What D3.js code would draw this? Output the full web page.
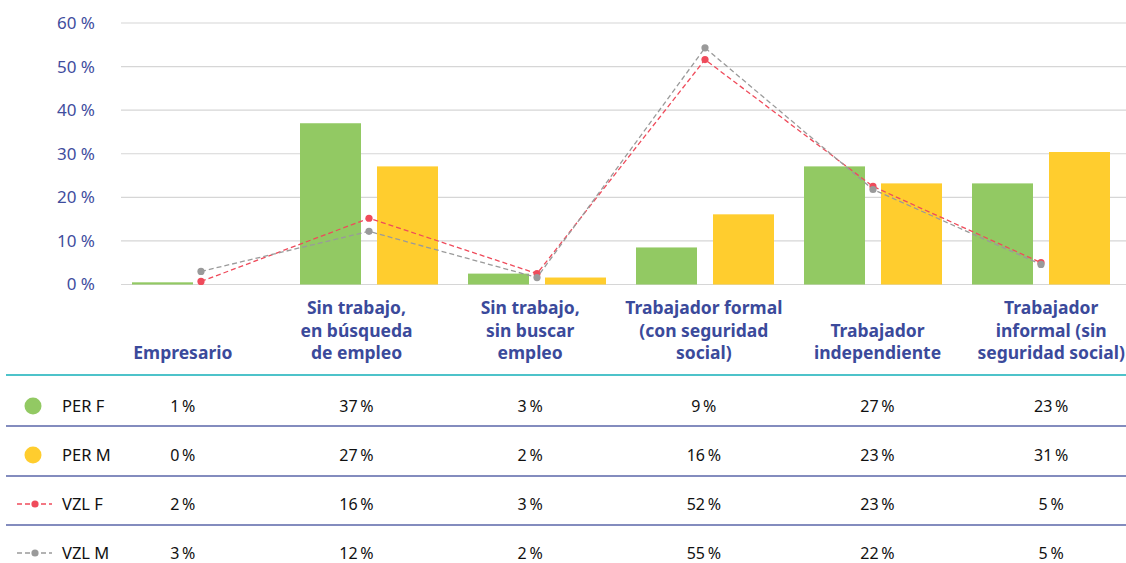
<!DOCTYPE html>
<html>
<head>
<meta charset="utf-8">
<script src="https://cdn.jsdelivr.net/npm/d3@7"></script>
<style>
  body { margin: 0; background: #fff; }
  svg { display: block; font-family: "Noto Sans", "Open Sans", sans-serif; }
</style>
</head>
<body>
<svg id="chart" width="1126" height="563"></svg>
<script>
// data
var categories = ["Empresario", "Sin trabajo, en búsqueda de empleo", "Sin trabajo, sin buscar empleo",
                  "Trabajador formal (con seguridad social)", "Trabajador independiente",
                  "Trabajador informal (sin seguridad social)"];
var categoryLines = [
    ["Empresario"],
    ["Sin trabajo,", "en búsqueda", "de empleo"],
    ["Sin trabajo,", "sin buscar", "empleo"],
    ["Trabajador formal", "(con seguridad", "social)"],
    ["Trabajador", "independiente"],
    ["Trabajador", "informal (sin", "seguridad social)"]
];
var perF = [0.5, 37, 2.5, 8.5, 27.1, 23.2];
var perM = [0, 27.1, 1.6, 16.1, 23.2, 30.4];
var vzlF = [0.7, 15.2, 2.5, 51.6, 22.5, 5.0];
var vzlM = [3.0, 12.2, 1.6, 54.3, 21.8, 4.6];
var yTicks = [0, 10, 20, 30, 40, 50, 60];

var seriesNames = ["PER F", "PER M", "VZL F", "VZL M"];
var tableLabels = [
    ["1 %", "37 %", "3 %", "9 %", "27 %", "23 %"],
    ["0 %", "27 %", "2 %", "16 %", "23 %", "31 %"],
    ["2 %", "16 %", "3 %", "52 %", "23 %", "5 %"],
    ["3 %", "12 %", "2 %", "55 %", "22 %", "5 %"]
];

var green = "#92c963", yellow = "#ffcd2e", red = "#ef4b5b", grey = "#9a9a9a";
var blue = "#3b4a9b";

var svg = d3.select("#chart");

var x = d3.scaleBand().domain(categories).range([117, 1125]);
var y = d3.scaleLinear().domain([0, 60]).range([284.5, 23]);
var barW = 61, gap = 16;
function cx(c) { return x(c) + x.bandwidth() / 2; }

// table columns (labels under the chart sit on these too)
var tx = d3.scaleBand().domain(categories).range([96, 1138]);
function tcx(c) { return tx(c) + tx.bandwidth() / 2; }

// gridlines
svg.append("g").selectAll("line").data(yTicks).enter().append("line")
    .attr("x1", 121).attr("x2", 1126)
    .attr("y1", function (d) { return y(d); })
    .attr("y2", function (d) { return y(d); })
    .attr("stroke", "#d6d6d6").attr("stroke-width", 1.2);

// y labels
svg.append("g").selectAll("text").data(yTicks).enter().append("text")
    .attr("x", 95).attr("y", function (d) { return y(d); })
    .attr("dy", "0.35em")
    .attr("text-anchor", "end")
    .attr("fill", "#3f4d9e").attr("font-size", 17)
    .text(function (d) { return d + " %"; });

// bars
svg.append("g").selectAll("rect").data(perF).enter().append("rect")
    .attr("x", function (d, i) { return cx(categories[i]) - gap / 2 - barW; })
    .attr("width", barW)
    .attr("y", function (d) { return y(d); })
    .attr("height", function (d) { return y(0) - y(d); })
    .attr("fill", green);
svg.append("g").selectAll("rect").data(perM).enter().append("rect")
    .attr("x", function (d, i) { return cx(categories[i]) + gap / 2; })
    .attr("width", barW)
    .attr("y", function (d) { return y(d); })
    .attr("height", function (d) { return y(0) - y(d); })
    .attr("fill", yellow);

// dashed lines
var line = d3.line()
    .x(function (d, i) { return cx(categories[i]); })
    .y(function (d) { return y(d); });

[[vzlF, red], [vzlM, grey]].forEach(function (s) {
    var g = svg.append("g");
    g.append("path").attr("d", line(s[0]))
        .attr("fill", "none").attr("stroke", s[1])
        .attr("stroke-width", 1.3).attr("stroke-dasharray", "5,3");
    g.selectAll("circle").data(s[0]).enter().append("circle")
        .attr("cx", function (d, i) { return cx(categories[i]); })
        .attr("cy", function (d) { return y(d); })
        .attr("r", 3.6).attr("fill", s[1]);
});

// category labels, bottom aligned
var lh = 22.5, lastBase = 359;
categoryLines.forEach(function (lines, i) {
    var t = svg.append("text")
        .attr("text-anchor", "middle")
        .attr("fill", blue).attr("font-size", 17.5).attr("font-weight", "bold");
    lines.forEach(function (l, j) {
        t.append("tspan")
            .attr("x", tcx(categories[i]))
            .attr("y", lastBase - (lines.length - 1 - j) * lh)
            .text(l);
    });
});

// table
var rowY = [406, 455, 504, 553];
svg.append("line").attr("x1", 6).attr("x2", 1126).attr("y1", 375).attr("y2", 375)
    .attr("stroke", "#4ec3ca").attr("stroke-width", 2);
[426, 476, 525].forEach(function (yy) {
    svg.append("line").attr("x1", 6).attr("x2", 1126).attr("y1", yy).attr("y2", yy)
        .attr("stroke", "#5a66a8").attr("stroke-width", 1.4);
});

var symbolColors = [green, yellow, red, grey];
seriesNames.forEach(function (name, r) {
    var yy = rowY[r];
    if (r < 2) {
        svg.append("circle").attr("cx", 33).attr("cy", yy).attr("r", 8.5)
            .attr("fill", symbolColors[r]);
    } else {
        svg.append("line").attr("x1", 17).attr("x2", 52).attr("y1", yy).attr("y2", yy)
            .attr("stroke", symbolColors[r]).attr("stroke-width", 1.3)
            .attr("stroke-dasharray", "5,3");
        svg.append("circle").attr("cx", 35).attr("cy", yy).attr("r", 3.6)
            .attr("fill", symbolColors[r]);
    }
    svg.append("text").attr("x", 62).attr("y", yy).attr("dy", "0.35em")
        .attr("font-size", 16.5).attr("fill", "#111").text(name);
    svg.append("g").selectAll("text").data(tableLabels[r]).enter().append("text")
        .attr("x", function (d, i) { return tcx(categories[i]); })
        .attr("y", yy).attr("dy", "0.35em")
        .attr("text-anchor", "middle")
        .attr("font-size", 16).attr("fill", "#111")
        .text(function (d) { return d.replace(" ", "\u2009"); });
});
</script>
</body>
</html>
